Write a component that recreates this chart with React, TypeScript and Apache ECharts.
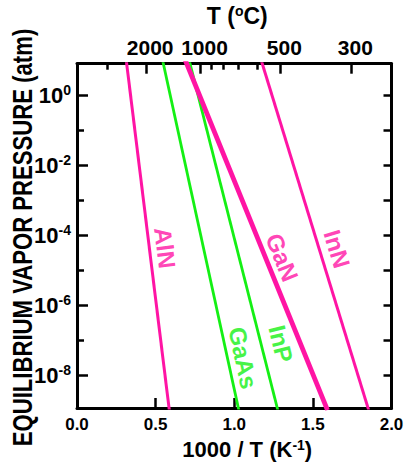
import React, { useEffect, useRef } from "react";
import * as echarts from "echarts";

// ---- data ----
// Line endpoints: 1000/T (K^-1) at the pressures in `pressureEnds` (atm)
const pressureEnds = [10, 1e-9];
const compounds = ["AlN", "GaAs", "InP", "GaN", "InN"];
const alnX = [0.313, 0.587];
const gaasX = [0.544, 1.029];
const inpX = [0.713, 1.277];
const ganX = [0.688, 1.593];
const innX = [1.171, 1.855];

// Label placement (data space) and text rotation
const labelX = [0.56, 1.056, 1.297, 1.304, 1.653];
const labelP = [4.3e-5, 3.1e-8, 7.8e-8, 2.3e-5, 4.0e-5];
const labelRot = [-83, -78, -76, -68, -73];

// Axes
const xMin = 0;
const xMax = 2;
const yExpMin = -8.94;
const yExpMax = 0.894;
const yMajorExp = [0, -2, -4, -6, -8];
const yMinorExp = [-1, -3, -5, -7];
const yRightExp = [0, -1, -2, -3, -4, -5, -6, -7, -8];
const topMajorC = [2000, 1000, 500, 300];
const topMinorC = [5000, 900, 800, 700, 600];
const yTitle = "EQUILIBRIUM VAPOR PRESSURE (atm)";

const MAGENTA = "#ff14a4";
const GREEN = "#14f014";
const FONT = "'Liberation Sans', Arial, sans-serif";

const toInvT = (c: number) => 1000 / (c + 273.15);

export default function App() {
  const ref = useRef<HTMLDivElement>(null);
  useEffect(() => {
    document.body.style.margin = "0";
    if (!ref.current) return;
    const chart = echarts.init(ref.current, null, { renderer: "svg" });
    const xs = [alnX, gaasX, inpX, ganX, innX];
    const colors = [MAGENTA, GREEN, GREEN, MAGENTA, MAGENTA];
    const widths = [3, 2.8, 2.8, 4.8, 3];
    const lineSeries = compounds.map((name, i) => ({
      type: "line",
      name,
      xAxisIndex: 0,
      yAxisIndex: 0,
      showSymbol: false,
      silent: true,
      clip: true,
      lineStyle: { color: colors[i], width: widths[i] },
      data: xs[i].map((x, j) => [x, Math.log10(pressureEnds[j])]),
      z: i === 3 ? 4 : 3,
    }));
    const labelSeries = {
      type: "scatter",
      xAxisIndex: 0,
      yAxisIndex: 0,
      symbolSize: 0,
      silent: true,
      data: compounds.map((name, i) => ({
        value: [labelX[i], Math.log10(labelP[i])],
        label: {
          show: true,
          position: "inside",
          formatter: name,
          rotate: labelRot[i],
          color: colors[i],
          fontSize: 24,
          fontWeight: "bold",
          fontFamily: FONT,
        },
      })),
      z: 5,
    };
    const axisLine = { show: true, onZero: false, lineStyle: { color: "#000", width: 3 } };
    const tickStyle = { color: "#000", width: 2.5 };
    const boldText = { color: "#000", fontWeight: "bold", fontFamily: FONT };
    chart.setOption({
      animation: false,
      grid: {
        left: 77,
        right: 13.5,
        top: 63.7,
        bottom: 55,
        containLabel: false,
        outerBoundsMode: "none",
      },
      graphic: [
        {
          type: "text",
          x: 23,
          y: 237.5,
          rotation: Math.PI / 2,
          scaleX: 0.82,
          silent: true,
          style: {
            text: yTitle,
            fill: "#000",
            font: "bold 27px 'Liberation Sans', Arial, sans-serif",
            textAlign: "center",
            textVerticalAlign: "middle",
          },
        },
      ],
      xAxis: [
        {
          type: "value",
          position: "bottom",
          min: xMin,
          max: xMax,
          interval: 0.5,
          axisLine,
          splitLine: { show: false },
          axisTick: { show: true, inside: true, length: 10, lineStyle: tickStyle },
          axisLabel: {
            ...boldText,
            fontSize: 17,
            margin: 8,
            formatter: (v: number) => v.toFixed(1),
          },
          name: "{t|1000 / T (K}{s|-1}{t|)}",
          nameLocation: "middle",
          nameGap: 26,
          nameTextStyle: {
            padding: [0, 0, 0, 26],
            rich: {
              t: { ...boldText, fontSize: 22, lineHeight: 24 },
              s: { ...boldText, fontSize: 14, lineHeight: 14, verticalAlign: "top" },
            },
          },
        },
        {
          type: "value",
          position: "top",
          min: xMin,
          max: xMax,
          axisLine,
          splitLine: { show: false },
          axisTick: {
            show: true,
            inside: true,
            length: 10,
            lineStyle: tickStyle,
            customValues: topMajorC.map(toInvT),
          },
          axisLabel: {
            ...boldText,
            fontSize: 21,
            margin: 6,
            padding: [0, 0, 0, 8],
            customValues: topMajorC.map(toInvT),
            formatter: (v: number) => String(Math.round(1000 / v - 273.15)),
          },
          name: "{t|T (}{s|o}{t|C)}",
          nameLocation: "middle",
          nameGap: 36,
          nameTextStyle: {
            padding: [0, 0, 0, 6],
            rich: {
              t: { ...boldText, fontSize: 23, lineHeight: 24 },
              s: { ...boldText, fontSize: 14, lineHeight: 14, verticalAlign: "top" },
            },
          },
        },
        {
          type: "value",
          position: "top",
          min: xMin,
          max: xMax,
          axisLine: { show: false, onZero: false },
          splitLine: { show: false },
          axisTick: {
            show: true,
            inside: true,
            length: 6,
            lineStyle: tickStyle,
            customValues: topMinorC.map(toInvT),
          },
          axisLabel: { show: false },
        },
      ],
      yAxis: [
        {
          type: "value",
          position: "left",
          min: yExpMin,
          max: yExpMax,
          axisLine,
          splitLine: { show: false },
          axisTick: { show: true, inside: true, length: 11, lineStyle: tickStyle, customValues: yMajorExp },
          axisLabel: {
            margin: 6,
            customValues: yMajorExp,
            formatter: (v: number) => `{b|10}{s|${Math.round(v)}}`,
            rich: {
              b: { ...boldText, fontSize: 22, lineHeight: 24 },
              s: { ...boldText, fontSize: 14, lineHeight: 14, verticalAlign: "top" },
            },
          },
        },
        {
          type: "value",
          position: "left",
          min: yExpMin,
          max: yExpMax,
          axisLine: { show: false, onZero: false },
          splitLine: { show: false },
          axisTick: { show: true, inside: true, length: 7, lineStyle: tickStyle, customValues: yMinorExp },
          axisLabel: { show: false },
        },
        {
          type: "value",
          position: "right",
          min: yExpMin,
          max: yExpMax,
          axisLine,
          splitLine: { show: false },
          axisTick: { show: true, inside: true, length: 8, lineStyle: tickStyle, customValues: yRightExp },
          axisLabel: { show: false },
        },
      ],
      series: [...lineSeries, labelSeries],
    });
    return () => chart.dispose();
  }, []);
  return <div ref={ref} style={{ width: 405, height: 463 }} />;
}
